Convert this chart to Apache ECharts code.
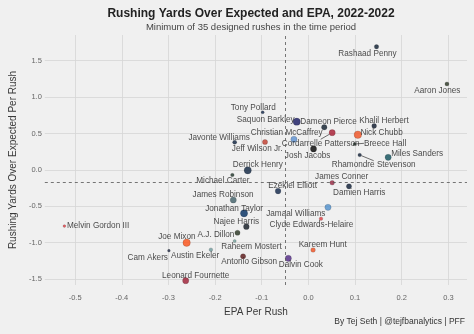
<!DOCTYPE html>
<html>
<head>
<meta charset="utf-8">
<script src="https://cdn.jsdelivr.net/npm/echarts@6/dist/echarts.min.js"></script>
<style>
html,body{margin:0;padding:0;background:#f0f0f0;}
#chart{width:474px;height:334px;}
</style>
</head>
<body>
<div id="chart"></div>
<script>
// ---- data ----
const players = ["Rashaad Penny","Aaron Jones","Tony Pollard","Saquon Barkley","Dameon Pierce","Cordarrelle Patterson","Christian McCaffrey","Nick Chubb","Khalil Herbert","Breece Hall","Josh Jacobs","Rhamondre Stevenson","Miles Sanders","Derrick Henry","Jeff Wilson Jr.","Javonte Williams","Michael Carter","James Conner","Damien Harris","Ezekiel Elliott","Jamaal Williams","Clyde Edwards-Helaire","Kareem Hunt","Dalvin Cook","Jonathan Taylor","Najee Harris","Antonio Gibson","A.J. Dillon","Raheem Mostert","James Robinson","Melvin Gordon III","Joe Mixon","Cam Akers","Austin Ekeler","Leonard Fournette"];
const teams = ["SEA","GB","DAL","NYG","HOU","ATL","CAR","CLE","CHI","NYJ","LV","NE","PHI","TEN","SF","DEN","NYJ","ARI","NE","DAL","DET","KC","CLE","MIN","IND","PIT","WAS","GB","MIA","JAX","KC","CIN","LA","LAC","TB"];
const epaPerRush = [0.146,0.297,-0.098,-0.025,0.034,0.051,-0.031,0.106,0.141,0.099,0.011,0.110,0.171,-0.130,-0.093,-0.158,-0.163,0.051,0.087,-0.065,0.042,0.027,0.010,-0.043,-0.138,-0.133,-0.140,-0.152,-0.158,-0.161,-0.523,-0.261,-0.299,-0.209,-0.263];
const ryoePerRush = [1.692,1.180,0.791,0.662,0.585,0.511,0.420,0.483,0.603,0.355,0.287,0.204,0.172,-0.006,0.383,0.379,-0.071,-0.177,-0.226,-0.291,-0.515,-0.671,-1.101,-1.215,-0.597,-0.781,-1.188,-0.864,-0.978,-0.414,-0.772,-1.001,-1.111,-1.097,-1.523];
const volume = [90,78,44,240,137,176,176,261,108,44,176,60,176,240,122,78,60,99,122,148,176,60,99,176,240,148,122,122,44,176,35,250,35,60,176];
const meanEPA = -0.053;
const meanRYOE = -0.171;
const xTicks = [-0.5,-0.4,-0.3,-0.2,-0.1,0.0,0.1,0.2,0.3];
const yTicks = [-1.5,-1.0,-0.5,0.0,0.5,1.0,1.5];

// ---- styles ----
const teamColor = {SEA:"#0a1a2e",GB:"#27321f",DAL:"#0e2347",NYG:"#151660",HOU:"#0d1b2a",ATL:"#a71930",CAR:"#5a8fcf",CLE:"#f05020",CHI:"#0b162a",NYJ:"#1e3328",LV:"#000000",NE:"#0a1a33",PHI:"#0e4f5a",TEN:"#0c2340",SF:"#c0392b",DEN:"#0a1f3c",ARI:"#97233f",DET:"#4d8fcc",KC:"#e03a3e",MIN:"#4f2683",IND:"#002c5f",PIT:"#101820",WAS:"#5a1414",MIA:"#6e9e98",JAX:"#3f5f68",CIN:"#fb4f14",LA:"#1a2440",LAC:"#6c9a9c",TB:"#9e1b32"};
const labelNudge = {"Rashaad Penny":[-9,6.7],"Aaron Jones":[-9.6,6.3],"Tony Pollard":[-9.4,-4.6],"Saquon Barkley":[-31,-2.4],"Dameon Pierce":[4.3,-5.6],"Cordarrelle Patterson":[-11.5,10.6],"Christian McCaffrey":[-7.2,-6.6],"Nick Chubb":[23.7,-2.4],"Khalil Herbert":[9.8,-5.3],"Breece Hall":[30.5,-0.7],"Josh Jacobs":[-5.9,6.3],"Rhamondre Stevenson":[14,9.7],"Miles Sanders":[29,-3.3],"Derrick Henry":[10.1,-5.3],"Jeff Wilson Jr.":[-7.8,6.3],"Javonte Williams":[-15.6,-5],"Michael Carter":[-9.5,5.3],"James Conner":[9.5,-6],"Damien Harris":[10.2,6.4],"Ezekiel Elliott":[14.5,-5.7],"Jamaal Williams":[-32.2,6],"Clyde Edwards-Helaire":[-9.5,5.6],"Kareem Hunt":[9.7,-5.7],"Dalvin Cook":[12.5,6.4],"Jonathan Taylor":[-9.9,-5],"Najee Harris":[-10,-5],"Antonio Gibson":[6.1,5.4],"A.J. Dillon":[-21.5,2.3],"Raheem Mostert":[16.8,6],"James Robinson":[-10.2,-5],"Melvin Gordon III":[33.7,0],"Joe Mixon":[-9.8,-5.7],"Cam Akers":[-21.2,6.6],"Austin Ekeler":[-15.7,6.3],"Leonard Fournette":[10,-5.4]};
const withLeader = {"Cordarrelle Patterson":1,"Breece Hall":1,"Rhamondre Stevenson":1};
const FONT = "'Liberation Sans', Arial, Helvetica, sans-serif";

const seriesData = players.map((p, i) => ({
  name: p,
  value: [epaPerRush[i], ryoePerRush[i], volume[i]],
  symbolSize: 0.47 * Math.sqrt(volume[i]),
  itemStyle: { color: teamColor[teams[i]], borderColor: 'rgba(0,0,0,0.35)', borderWidth: 0.5 },
  labelLine: { show: !!withLeader[p], lineStyle: { color: '#333', width: 0.7 } }
}));

const chart = echarts.init(document.getElementById('chart'), null, {renderer: 'canvas'});
chart.setOption({
  backgroundColor: '#f0f0f0',
  animation: false,
  textStyle: { fontFamily: FONT },
  grid: { left: 35, right: 7, top: 35, bottom: 49 },
  xAxis: {
    type: 'value', min: -0.565, max: 0.340,
    axisLine: { show: false },
    axisTick: { show: false, customValues: xTicks },
    axisLabel: { customValues: xTicks, formatter: v => v.toFixed(1), color: '#666', fontSize: 7.5, margin: 9, fontFamily: FONT },
    splitLine: { show: true, lineStyle: { color: '#d6d6d6', width: 0.8 } },
    name: 'EPA Per Rush', nameLocation: 'middle', nameGap: 18,
    nameTextStyle: { color: '#3a3a3a', fontSize: 10, fontFamily: FONT }
  },
  yAxis: {
    type: 'value', min: -1.582, max: 1.853,
    axisLine: { show: false },
    axisTick: { show: false, customValues: yTicks },
    axisLabel: { customValues: yTicks, formatter: v => v.toFixed(1), color: '#666', fontSize: 7.5, margin: 3, fontFamily: FONT },
    splitLine: { show: true, lineStyle: { color: '#d6d6d6', width: 0.8 } },
    name: 'Rushing Yards Over Expected Per Rush', nameLocation: 'middle', nameGap: 19,
    nameTextStyle: { color: '#3a3a3a', fontSize: 10, fontFamily: FONT }
  },
  series: [{
    type: 'scatter',
    data: seriesData,
    label: { show: true, position: 'inside', formatter: '{b}', color: '#1a1a1a', fontSize: 8.2, fontFamily: FONT },
    labelLine: { show: false },
    labelLayout: function (params) {
      const n = labelNudge[players[params.dataIndex]] || [0, 0];
      return { dx: n[0], dy: n[1] };
    },
    markLine: {
      silent: true, symbol: 'none', animation: false,
      label: { show: false },
      lineStyle: { type: [3, 3], color: '#555', width: 0.8 },
      data: [{ xAxis: meanEPA }, { yAxis: meanRYOE }]
    },
    z: 3
  }],
  graphic: [
    { type: 'text', x: 251, y: 13.5, style: { text: 'Rushing Yards Over Expected and EPA, 2022-2022', fill: '#222', font: "bold 12px " + FONT, textAlign: 'center', textVerticalAlign: 'middle' } },
    { type: 'text', x: 251, y: 27, style: { text: 'Minimum of 35 designed rushes in the time period', fill: '#444', font: "9.5px " + FONT, textAlign: 'center', textVerticalAlign: 'middle' } },
    { type: 'text', x: 465, y: 321.5, style: { text: 'By Tej Seth | @tejfbanalytics | PFF', fill: '#333', font: "8.5px " + FONT, textAlign: 'right', textVerticalAlign: 'middle' } }
  ]
});
</script>
</body>
</html>
